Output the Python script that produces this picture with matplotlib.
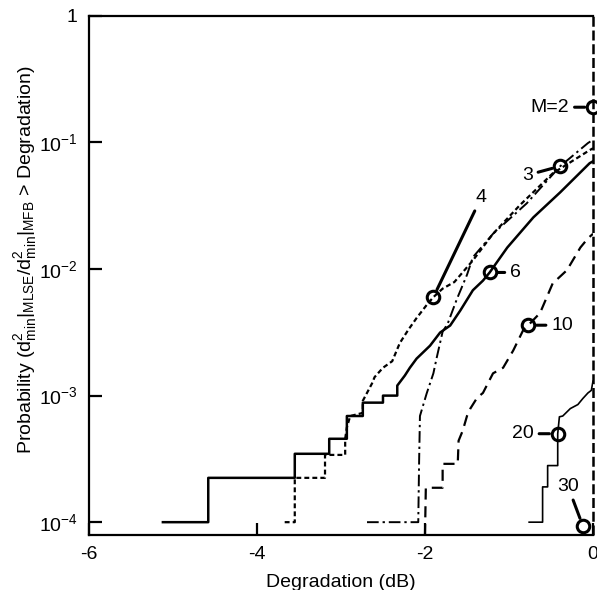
import numpy as np
import matplotlib
matplotlib.use("Agg")
import matplotlib.pyplot as plt

plt.rcParams['font.family'] = ['Liberation Sans', 'DejaVu Sans']
plt.rcParams['mathtext.fontset'] = 'custom'
plt.rcParams['mathtext.rm'] = 'Liberation Sans'
plt.rcParams['mathtext.it'] = 'Liberation Sans:italic'
plt.rcParams['mathtext.bf'] = 'Liberation Sans:bold'
plt.rcParams['mathtext.default'] = 'regular'
plt.rcParams['axes.unicode_minus'] = False

# curves (degradation in dB, probability)
m6_x = [-5.12, -4.58, -4.58, -3.55, -3.55, -3.14, -3.14, -2.93, -2.93, -2.74, -2.74,
        -2.50, -2.50, -2.33, -2.33, -2.24, -2.18, -2.10, -1.94, -1.82, -1.70, -1.58,
        -1.43, -1.31, -1.23, -1.02, -0.71, -0.39, -0.04, 0.0]
m6_y = [1.0e-4, 1.0e-4, 2.24e-4, 2.24e-4, 3.47e-4, 3.47e-4, 4.56e-4, 4.56e-4, 6.9e-4, 6.9e-4, 8.8e-4,
        8.8e-4, 1.0e-3, 1.0e-3, 1.2e-3, 1.44e-3, 1.66e-3, 1.96e-3, 2.48e-3, 3.15e-3, 3.58e-3, 4.7e-3,
        6.8e-3, 8.1e-3, 9.4e-3, 1.48e-2, 2.56e-2, 4.04e-2, 6.86e-2, 7.1e-2]

m4_x = [-3.67, -3.55, -3.55, -3.19, -3.19, -2.95, -2.95, -2.93, -2.89, -2.74, -2.74,
        -2.63, -2.60, -2.50, -2.39, -2.30, -2.20, -2.10, -1.98, -1.90, -1.79, -1.65,
        -1.43, -1.19, -0.87, -0.48, -0.04, 0.0]
m4_y = [1.0e-4, 1.0e-4, 2.24e-4, 2.24e-4, 3.4e-4, 3.4e-4, 4.56e-4, 5.6e-4, 6.9e-4, 7.3e-4, 9.1e-4,
        1.25e-3, 1.4e-3, 1.66e-3, 1.87e-3, 2.6e-3, 3.3e-3, 4.1e-3, 5.2e-3, 6.0e-3, 7.0e-3, 7.9e-3,
        1.17e-2, 1.9e-2, 3.2e-2, 5.7e-2, 8.7e-2, 9.0e-2]

m3_x = [-2.69, -2.08, -2.07, -2.06, -1.98, -1.90, -1.86, -1.79, -1.73, -1.62, -1.50,
        -1.43, -1.19, -0.79, -0.39, -0.06, 0.0]
m3_y = [1.0e-4, 1.0e-4, 3.0e-4, 6.9e-4, 1.04e-3, 1.5e-3, 2.0e-3, 3.2e-3, 3.7e-3, 5.8e-3, 9.0e-3,
        1.24e-2, 1.9e-2, 3.3e-2, 6.5e-2, 9.9e-2, 0.105]

m10_x = [-2.0, -1.99, -1.79, -1.79, -1.61, -1.60, -1.55, -1.50, -1.46, -1.38, -1.31,
         -1.19, -1.07, -0.95, -0.83, -0.77, -0.63, -0.48, -0.31, -0.15, -0.06, 0.0]
m10_y = [7.9e-5, 1.87e-4, 1.87e-4, 2.89e-4, 2.89e-4, 4.4e-4, 5.3e-4, 6.9e-4, 7.9e-4, 9.6e-4, 1.05e-3,
         1.5e-3, 1.66e-3, 2.27e-3, 3.3e-3, 3.6e-3, 4.5e-3, 7.7e-3, 9.8e-3, 1.48e-2, 1.75e-2, 1.9e-2]

m20_x = [-0.76, -0.60, -0.60, -0.54, -0.54, -0.42, -0.42, -0.40, -0.36, -0.27, -0.18,
         -0.12, -0.06, -0.02, 0.0]
m20_y = [1.0e-4, 1.0e-4, 1.9e-4, 1.9e-4, 2.8e-4, 2.8e-4, 5.0e-4, 6.8e-4, 6.9e-4, 7.9e-4, 8.5e-4,
         9.5e-4, 1.05e-3, 1.1e-3, 1.3e-3]

m2_x = [0.0, 0.0]
m2_y = [7.9e-5, 1.0]

# circled points and their labels
mark_labels = ['M=2', '3', '4', '6', '10', '20', '30']
mark_x = [0.0, -0.39, -1.90, -1.23, -0.77, -0.42, -0.12]
mark_y = [0.19, 6.5e-2, 6.0e-3, 9.4e-3, 3.6e-3, 5.0e-4, 9.3e-5]
# label offsets in pixels from the circle
mark_off = [(-24, 0), (-33, -9), (48, 100), (26, 0), (34, 0), (-35, 0), (-15, 40)]
mark_ha = ['right', 'center', 'center', 'center', 'center', 'center', 'center']

ytick_vals = [1e-4, 1e-3, 1e-2, 1e-1, 1]
ytick_text = ['10$^{-4}$', '10$^{-3}$', '10$^{-2}$', '10$^{-1}$', '1']
xtick_vals = [-6, -4, -2, 0]

fig = plt.figure(figsize=(5.97, 5.90), dpi=100)
ax = fig.add_axes([0.149, 0.093, 0.8443, 0.880])

k = 'black'
ax.plot(m6_x, m6_y, color=k, lw=1.8, ls='-')
ax.plot(m4_x, m4_y, color=k, lw=1.6, ls=(0, (2.2, 1.4)))
ax.plot(m3_x, m3_y, color=k, lw=1.4, ls=(0, (6, 2, 1.2, 2)))
ax.plot(m10_x, m10_y, color=k, lw=1.6, ls=(0, (5, 3)))
ax.plot(m20_x, m20_y, color=k, lw=1.2, ls='-')
ax.plot(m2_x, m2_y, color=k, lw=1.8, ls=(0, (4, 1.5)), clip_on=False)

ax.plot(mark_x, mark_y, 'o', ms=9, mfc='none', mec=k, mew=2.2, ls='none', clip_on=False)

for lab, x, y, off, ha in zip(mark_labels, mark_x, mark_y, mark_off, mark_ha):
    ax.annotate(lab, xy=(x, y), xytext=off, textcoords='offset pixels',
                ha=ha, va='center', fontsize=14,
                arrowprops=dict(arrowstyle='-', lw=2.2, color=k, shrinkA=2, shrinkB=6))

ax.set_yscale('log')
ax.set_xlim(-6, 0)
ax.set_ylim(7.9e-5, 1)
ax.set_yticks(ytick_vals)
ax.set_yticklabels(ytick_text)
ax.yaxis.set_minor_locator(matplotlib.ticker.NullLocator())
ax.set_xticks(xtick_vals)
ax.set_xticklabels([str(v) for v in xtick_vals])
ax.tick_params(direction='in', length=9, width=1.6, labelsize=14, pad=8)

for s in ['left', 'bottom', 'top']:
    ax.spines[s].set_linewidth(1.6)
ax.spines['right'].set_visible(False)

ax.set_xlabel('Degradation (dB)', fontsize=14, labelpad=8)
ax.set_ylabel(r'Probability (d$^2_{min}$$|_{MLSE}$/d$^2_{min}$$|_{MFB}$ > Degradation)',
              fontsize=14)
ax.yaxis.set_label_coords(-0.1, 0.53)

fig.savefig('out.png', dpi=100)
